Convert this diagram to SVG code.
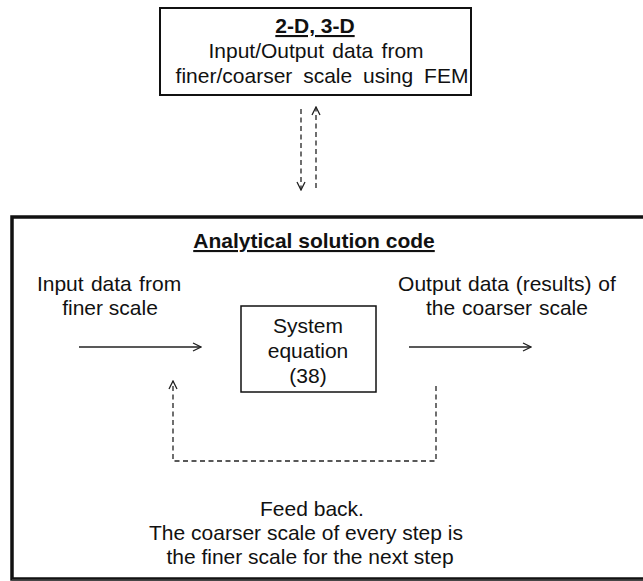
<svg xmlns="http://www.w3.org/2000/svg" width="643" height="581" viewBox="0 0 643 581">
<defs>
<style>
text{font-family:"Liberation Sans",Arial,sans-serif;font-size:21px;fill:#111;text-anchor:middle}
.b{font-weight:bold;text-decoration:underline}
.box{fill:#fff;stroke:#111}
.ln{stroke:#222;stroke-width:1.3;fill:none}
.ds{stroke:#222;stroke-width:1.3;fill:none;stroke-dasharray:5,3.5}
</style>
<marker id="ah" viewBox="0 0 10 10" refX="9" refY="5" markerWidth="10" markerHeight="10" markerUnits="userSpaceOnUse" orient="auto">
<path d="M1,1 L9,5 L1,9" fill="none" stroke="#222" stroke-width="1.3"/>
</marker>
</defs>
<rect width="643" height="581" fill="#fff"/>
<g id="fem">
<rect class="box" x="160" y="8" width="311" height="87" stroke-width="2"/>
<text class="b" x="315" y="33">2-D, 3-D</text>
<text x="316" y="58" word-spacing="2.5">Input/Output data from</text>
<text x="322" y="83" word-spacing="5">finer/coarser scale using FEM</text>
</g>
<g id="analytical">
<path d="M645,217 L12,217 L12,579 L645,579" fill="#fff" stroke="#111" stroke-width="3.5"/>
<path d="M12,580 L645,580" stroke="#444" stroke-width="1.5"/>
<text class="b" x="314" y="248">Analytical solution code</text>
</g>
<g id="input">
<text x="109" y="291" word-spacing="1.5">Input data from</text>
<text x="110" y="315">finer scale</text>
</g>
<g id="output">
<text x="507" y="291" word-spacing="1">Output data (results) of</text>
<text x="507" y="315" word-spacing="1">the coarser scale</text>
</g>
<g id="system">
<rect class="box" x="241" y="306" width="135" height="86" stroke-width="1.5"/>
<text x="308" y="333">System</text>
<text x="308" y="358">equation</text>
<text x="308" y="383">(38)</text>
</g>
<g id="feedback">
<text x="312" y="516">Feed back.</text>
<text x="306" y="540">The coarser scale of every step is</text>
<text x="310" y="564">the finer scale for the next step</text>
</g>
<g id="connectors">
<line class="ds" x1="301" y1="109" x2="301" y2="190" marker-end="url(#ah)"/>
<line class="ds" x1="316" y1="188" x2="316" y2="107" marker-end="url(#ah)"/>
<line class="ln" x1="79" y1="347" x2="201" y2="347" marker-end="url(#ah)"/>
<line class="ln" x1="409" y1="347" x2="531" y2="347" marker-end="url(#ah)"/>
<path class="ds" d="M436,386 L436,461 L173,461 L173,381" marker-end="url(#ah)"/>
</g>
</svg>
